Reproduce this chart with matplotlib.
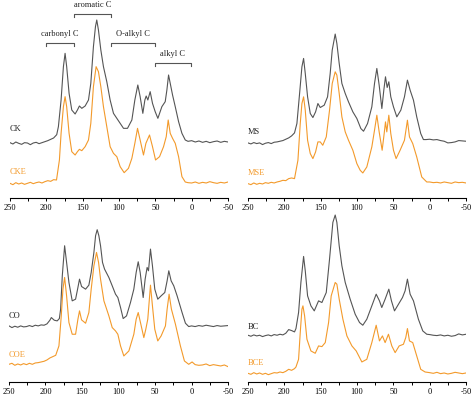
import matplotlib

matplotlib.use("Agg", force=True)
import matplotlib.pyplot as plt
from matplotlib.ticker import MultipleLocator

# chemical shift (ppm) and intensity (arbitrary units)
ck_ppm = [250, 246, 242, 238, 234, 230, 226, 222, 218, 214, 210, 206, 202, 198, 194, 190,
          185.7, 183.4, 179.7, 176.5, 174.2, 172, 168.7, 165, 160.4, 157.2,
          154.5, 151.2, 146.6, 142, 138.8, 135.2, 132.4, 130.6, 128.3, 125,
          121.4, 116.8, 112.2, 107.6, 103, 98.4, 93.8, 88.3, 82.3, 78.2,
          74.1, 70.9, 67.2, 64.4, 62.6, 60.3, 57.1, 53.9, 50.2, 46.5,
          41, 36.4, 34.1, 31.8, 29.5, 26.3, 22.6, 18, 13.4, 8.8,
          5, 0, -5, -10, -15, -20, -25, -30, -35, -40, -45, -50]
ck_int = [166, 162, 168, 164, 161, 166, 165, 160, 165, 167, 163, 166, 169, 172, 176, 180,
          190, 214, 294, 394, 434, 394, 314, 264, 252, 264,
          276, 269, 276, 294, 344, 454, 514, 534, 504, 444,
          394, 349, 294, 254, 239, 224, 209, 209, 234, 294,
          339, 304, 254, 294, 306, 294, 319, 284, 259, 239,
          274, 289, 324, 369, 344, 309, 274, 229, 194, 174,
          170, 172, 168, 171, 167, 170, 166, 169, 171, 167, 170, 168]

cke_ppm = [250, 246, 242, 238, 234, 230, 226, 222, 218, 214, 210, 206, 202, 198, 194, 190, 186,
           182, 179.7, 176.5, 174.2, 172, 168.7, 165, 160.4, 157.2,
           154.5, 151.2, 146.6, 142, 138.8, 135.2, 131.5, 128.3, 125, 121.4,
           116.8, 112.2, 107.6, 103, 98.4, 92.9, 87, 82.3, 78.2, 74.5,
           70.9, 66.3, 63, 58, 53.9, 49.7, 44.2, 38.7, 35, 32.3,
           29.5, 26.3, 22.6, 18, 13.4, 8.8,
           5, 0, -5, -10, -15, -20, -25, -30, -35, -40, -45, -50]
cke_int = [44, 40, 46, 42, 45, 41, 44, 47, 43, 46, 48, 45, 49, 52, 50, 55, 54,
           114, 194, 274, 304, 274, 194, 139, 129, 139,
           146, 142, 154, 174, 224, 334, 394, 379, 334, 274,
           214, 154, 134, 124, 94, 76, 89, 119, 164, 209,
           174, 129, 164, 189, 154, 114, 124, 154, 184, 234,
           194, 179, 164, 124, 64, 48,
           46, 45, 48, 44, 47, 45, 49, 46, 44, 47, 45, 48]

ms_ppm = [250, 246, 242, 238, 234, 230, 226, 222, 218, 214, 210, 206, 202, 198, 194, 190, 186,
          182.7, 179, 175.8, 173.5, 171.2, 168, 164.3, 160.7, 157, 153.8,
          150.6, 145.1, 140.5, 136.9, 134.1, 130, 127.7, 124.5, 120.8, 116.2,
          111.7, 105.7, 100.2, 94.7, 91, 85.5, 79.6, 75.9, 72.7, 69.5,
          65.8, 63.1, 60.8, 58.5, 56.2, 53.5, 49.8, 45.2, 39.7, 34.7,
          30.6, 26.9, 22.3, 17.8, 12.3, 8.6,
          5, 0, -5, -10, -15, -20, -25, -30, -35, -40, -45, -50]
ms_int = [165, 162, 166, 163, 165, 160, 164, 166, 163, 167, 168, 170, 172, 176, 180, 186, 195,
          223, 313, 393, 418, 373, 303, 253, 241, 258, 283,
          271, 278, 303, 373, 443, 491, 463, 403, 343, 313,
          288, 258, 238, 208, 200, 223, 273, 343, 388, 338,
          268, 323, 363, 331, 348, 303, 273, 243, 263, 303,
          353, 323, 293, 243, 193, 175,
          175, 176, 174, 175, 172, 170, 165, 166, 168, 172, 171, 170]

mse_ppm = [250, 246, 242, 238, 234, 230, 226, 222, 218, 214, 210, 206, 202, 198, 194, 190, 186,
           181.3, 178.1, 175.8, 173.5, 171.2, 168, 164.3, 160.7, 157, 153.8,
           150.6, 147.1, 142.3, 137.8, 134.1, 130, 127.7, 124.5, 120.8, 116.2,
           111.7, 105.7, 100.2, 95.6, 92, 86.5, 79.6, 75.9, 72.7, 69.5,
           65.4, 62.6, 60.8, 59, 56.2, 53.5, 49.8, 46.2, 40.7, 34.7,
           30.6, 27.8, 23.3, 17.8, 10.9, 4,
           0, -5, -10, -15, -20, -25, -30, -35, -40, -45, -50]
mse_int = [43, 40, 45, 41, 44, 42, 46, 44, 47, 45, 48, 50, 53, 52, 58, 60, 58,
           113, 223, 283, 303, 263, 173, 133, 118, 138, 168,
           168, 158, 183, 263, 343, 378, 368, 313, 243, 198,
           173, 143, 103, 83, 75, 93, 153, 203, 248, 198,
           143, 193, 228, 198, 248, 193, 143, 118, 143, 173,
           233, 183, 163, 123, 63, 48,
           48, 46, 47, 45, 48, 46, 44, 48, 46, 47, 45]

co_ppm = [250, 246, 242, 238, 234, 230, 226, 222, 218, 214, 210, 206, 202, 198, 194, 192, 188, 184, 181,
          179.3, 177, 173.8, 171.1, 167.9, 163.4, 158.8, 155.6, 153.4, 150.6,
          145.1, 140.6, 137.4, 133.7, 131.4, 129.2, 126.9, 124.6, 121.9, 119.1,
          113.2, 108.6, 104.1, 100.9, 97.2, 93.6, 89, 83.6, 79, 75.8,
          73, 70.3, 66.2, 63.5, 60.8, 58.9, 56.2, 53.5, 50.3, 46.2,
          41.6, 36.6, 33.4, 31.1, 27.9, 24.3, 19.7, 12.9, 8.3, 3.8,
          0, -5, -10, -15, -20, -25, -30, -35, -40, -45, -50]
co_int = [168, 163, 167, 164, 168, 165, 166, 169, 166, 170, 168, 171, 170, 174, 185, 193, 185, 183, 190,
          218, 318, 408, 358, 298, 243, 248, 283, 308, 286,
          278, 290, 328, 388, 438, 456, 438, 408, 358, 338,
          313, 288, 263, 253, 223, 190, 198, 238, 278, 328,
          360, 328, 253, 308, 343, 333, 398, 348, 278, 248,
          258, 268, 303, 333, 303, 288, 258, 208, 176, 166,
          168, 166, 169, 167, 170, 168, 166, 169, 167, 168, 169]

coe_ppm = [250, 246, 242, 238, 234, 230, 226, 222, 218, 214, 210, 206, 202, 198, 194, 190, 186,
           181.6, 178.4, 176.1, 173.8, 171.1, 167.9, 163.4, 158.8, 155.6, 153.4,
           150.6, 145.1, 140.6, 137.4, 133.7, 130.1, 127.3, 124.6, 120, 113.2,
           108.6, 104.1, 100.9, 97.2, 92.7, 85.8, 79, 75.8, 73, 69.9,
           65.3, 62.6, 59.9, 56.2, 53.5, 50.3, 46.2, 41.6, 35.7, 33.4,
           30.7, 27.5, 22, 15.2, 9.7, 3.8, -0.8,
           -5, -10, -15, -20, -25, -30, -35, -40, -45, -50]
coe_int = [53, 56, 50, 54, 51, 55, 52, 56, 53, 57, 58, 60, 62, 66, 72, 76, 80,
           108, 198, 278, 313, 258, 178, 143, 143, 188, 213,
           186, 176, 208, 278, 348, 388, 358, 308, 243, 198,
           163, 153, 143, 108, 78, 93, 143, 188, 208, 178,
           133, 158, 188, 290, 228, 158, 123, 138, 168, 218,
           263, 218, 173, 108, 63, 53, 60,
           52, 50, 51, 54, 49, 52, 50, 48, 51, 46]

bc_ppm = [250, 246, 242, 238, 234, 230, 226, 222, 218, 214, 210, 206, 202, 198, 194, 190, 186, 184,
          180.4, 177.2, 173.5, 171.2, 168, 163.4, 158.8, 152.9, 148.3, 142.3,
          137.8, 133.2, 130, 127.7, 124.5, 120.8, 116.2, 109.4, 102.5, 96.5,
          92, 86.5, 79.6, 73.6, 69.1, 65.9, 61.3, 56.2, 52.6, 48.4,
          42.9, 37.4, 33.8, 30.6, 26.9, 22.3, 15.5, 9.5, 4,
          0, -5, -10, -15, -20, -25, -30, -35, -40, -45, -50]
bc_int = [140, 137, 141, 138, 140, 136, 139, 141, 138, 142, 140, 143, 141, 146, 157, 154, 150, 160,
          208, 298, 376, 333, 258, 228, 213, 243, 238, 268,
          368, 478, 500, 478, 408, 348, 298, 248, 203, 178,
          170, 188, 228, 263, 243, 223, 248, 278, 243, 213,
          233, 253, 273, 308, 263, 243, 188, 153, 143,
          142, 140, 139, 141, 138, 140, 137, 139, 144, 141, 143]

bce_ppm = [250, 246, 242, 238, 234, 230, 226, 222, 218, 214, 210, 206, 202, 198, 194, 190, 186, 184,
           180.4, 178.1, 175.8, 174.4, 172.1, 168.9, 163.4, 157.5, 152.9, 148.3, 143.7,
           139.1, 135.5, 130, 127.7, 124.5, 119.4, 113.9, 107, 101.1, 93.3,
           86.5, 79.6, 73.6, 69.1, 65, 61.3, 56.7, 52.1, 47.5, 42,
           36.1, 32.9, 30.6, 27.8, 23.3, 17.8, 12.3, 6.3,
           0, -5, -10, -15, -20, -25, -30, -35, -40, -45, -50]
bce_int = [26, 23, 28, 24, 27, 23, 26, 22, 25, 28, 27, 30, 28, 32, 38, 35, 40, 45,
           68, 148, 218, 228, 198, 128, 93, 86, 108, 106, 118,
           178, 258, 298, 293, 248, 188, 138, 108, 93, 60,
           68, 118, 170, 123, 138, 118, 143, 108, 88, 108,
           113, 133, 160, 123, 118, 78, 38, 30,
           28, 26, 29, 25, 27, 24, 26, 29, 27, 25, 27]

# functional group regions (ppm) marked on the first panel
region_names = ["carbonyl C", "aromatic C", "O-alkyl C", "alkyl C"]
region_start = [200, 162, 111, 51]
region_end = [162, 111, 50, 1]

GRAY = "#555555"
ORANGE = "#F39A2B"
FS = 6
W, H = 474, 398

plt.rcParams["font.family"] = ["Liberation Serif", "DejaVu Serif"]
plt.rcParams["axes.unicode_minus"] = False

fig = plt.figure(figsize=(W / 100, H / 100), dpi=100)

# (left px, right px, axis-line y px, panel height px, ymax, traces, labels, label y)
panels = [
    (10, 228, 198, 198, 594, (ck_ppm, ck_int, cke_ppm, cke_int), ("CK", "CKE"), (206, 77)),
    (248, 466, 198, 198, 593, (ms_ppm, ms_int, mse_ppm, mse_int), ("MS", "MSE"), (198, 76)),
    (9, 228, 382, 183, 548, (co_ppm, co_int, coe_ppm, coe_int), ("CO", "COE"), (198, 81)),
    (248, 466, 382, 183, 548, (bc_ppm, bc_int, bce_ppm, bce_int), ("BC", "BCE"), (166, 56)),
]

axes = []
for x0, x1, yax, ph, ymax, traces, labels, label_y in panels:
    ax = fig.add_axes([x0 / W, (H - yax) / H, (x1 - x0) / W, ph / H])
    p1, i1, p2, i2 = traces
    ax.plot(p1, i1, color=GRAY, lw=0.8)
    ax.plot(p2, i2, color=ORANGE, lw=0.8)
    ax.set_xlim(250, -50)
    ax.set_ylim(0, ymax)
    ax.set_yticks([])
    for side in ("left", "right", "top"):
        ax.spines[side].set_visible(False)
    ax.spines["bottom"].set_linewidth(0.8)
    ax.xaxis.set_major_locator(MultipleLocator(50))
    ax.xaxis.set_minor_locator(MultipleLocator(25))
    ax.tick_params(axis="x", which="both", direction="out", length=2.5, width=0.7,
                   labelsize=FS, pad=2)
    ax.patch.set_alpha(0)
    ax.text(250, label_y[0], labels[0], color="#222222", fontsize=FS,
            ha="left", va="center")
    ax.text(250, label_y[1], labels[1], color=ORANGE, fontsize=FS,
            ha="left", va="center")
    axes.append(ax)

# region brackets on the CK panel
ax = axes[0]
bracket_y = [466, 551, 466, 404]
for name, start, end, by in zip(region_names, region_start, region_end, bracket_y):
    ax.plot([start, start, end, end], [by - 9, by, by, by - 9], color=GRAY, lw=0.8,
            clip_on=False)
    ax.text((start + end) / 2, by + 27, name, fontsize=FS, ha="center", va="center",
            color="#222222", clip_on=False)

fig.savefig("out.png", dpi=100)
